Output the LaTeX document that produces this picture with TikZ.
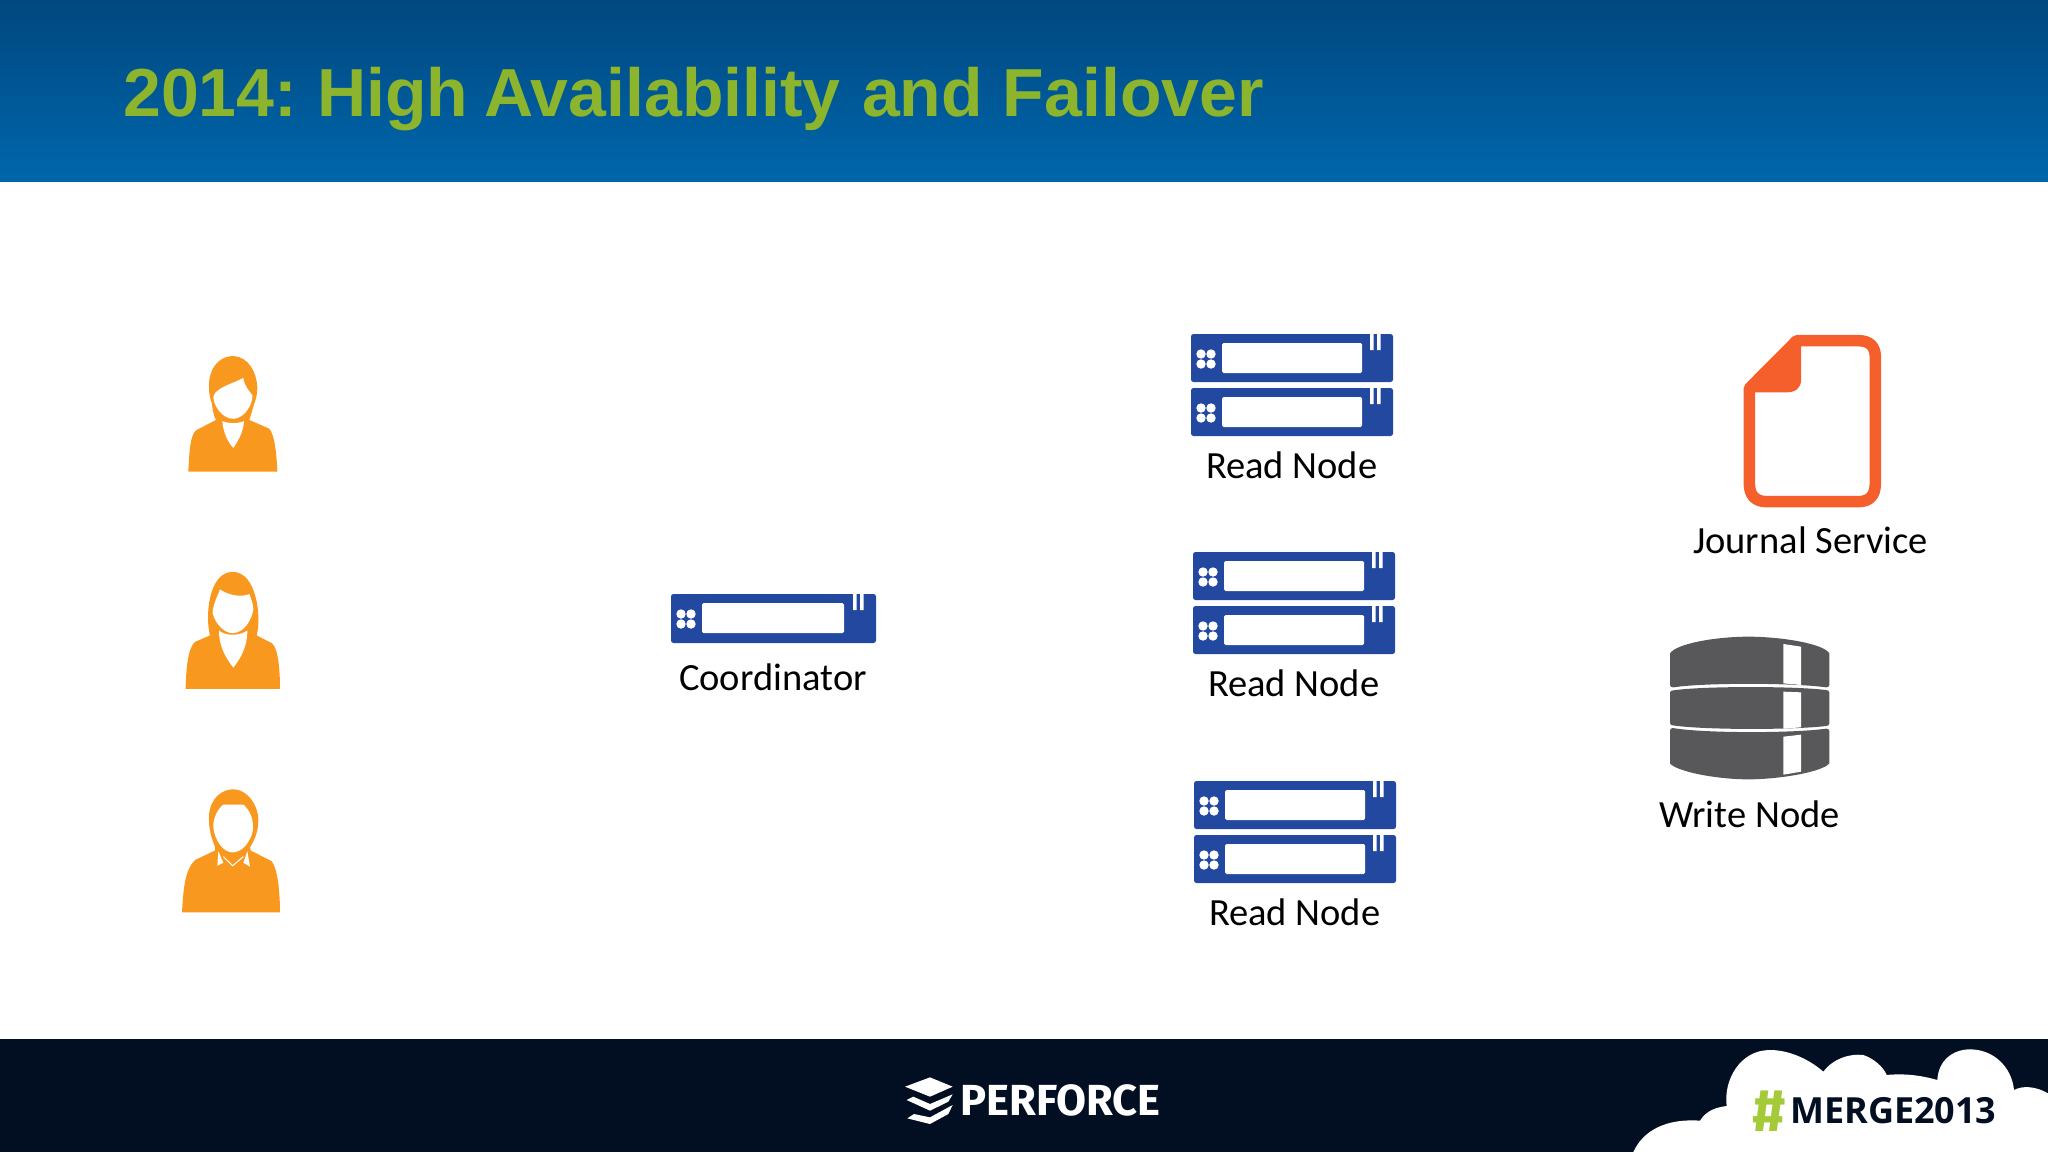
\documentclass[tikz,border=0pt]{standalone}
\usepackage{fontspec}
\setmainfont{Carlito}
\newfontfamily\titlefont{Liberation Sans}
\newfontfamily\logofont{Fira Sans}
\newfontfamily\mergefont{Open Sans}
\definecolor{hdtop}{HTML}{00477F}
\definecolor{hdbot}{HTML}{0067AB}
\definecolor{titlegreen}{HTML}{8CB42C}
\definecolor{footbg}{HTML}{020F23}
\definecolor{srvblue}{HTML}{2248A0}
\definecolor{persorange}{HTML}{F9981F}
\definecolor{docorange}{HTML}{F45F2C}
\definecolor{dbgrey}{HTML}{58585A}
\definecolor{hashgreen}{HTML}{A4CA38}
\tikzset{
  lbl/.style={inner sep=0pt,font=\fontsize{38.5}{42}\selectfont,text=black},
  srvbody/.style={fill=srvblue,rounded corners=2.5pt},
  srvhole/.style={fill=white},
  person/.style={fill=persorange},
  hole/.style={fill=white},
  dbpart/.style={fill=dbgrey},
  pics/server/.style={code={
    \fill[srvbody] (0,0) rectangle (#1,48);
    \fill[srvhole,rounded corners=1.5pt] (31,9) rectangle (171,39);
    \fill[srvhole] (10,20) circle (4.7) (20,20) circle (4.7) (10,30) circle (4.7) (20,30) circle (4.7);
    \fill[srvhole] (179,0) rectangle (182.5,16) (186,0) rectangle (189.5,16);
  }}
}
\begin{document}
\begin{tikzpicture}[x=1pt,y=-1pt]
\useasboundingbox (0,0) rectangle (2048,1152);
\fill[fill=white] (0,0) rectangle (2048,1152);
\shade[top color=hdtop,bottom color=hdbot] (0,0) rectangle (2048,181.5);
\fill[footbg] (0,1039) rectangle (2048,1152);
\node[anchor=base west,inner sep=0pt,text=titlegreen,font=\titlefont\bfseries\fontsize{68}{72}\selectfont] (title) at (123,116) {2014:\hspace{-5pt} High\hspace{-3pt} Availability\hspace{2.5pt} and\hspace{1pt} Failover};

% people
\begin{scope}[shift={(160,330)},xscale=1/3,yscale=0.3827]
\fill[person] (85,370) .. controls (88,310) and (92,275) .. (108,262) -- (168,235) .. controls (160,225) and (158,205) .. (155,190) .. controls (146,170) and (146,150) .. (148,130) .. controls (155,90) and (185,68) .. (220,68) .. controls (265,70) and (290,110) .. (292,150) .. controls (292,180) and (280,195) .. (275,215) -- (268,235) -- (328,258) .. controls (345,275) and (350,330) .. (352,370) -- cycle;
\fill[hole] (165,165) .. controls (185,145) and (225,138) .. (250,125) .. controls (252,145) and (268,160) .. (277,170) .. controls (280,190) and (255,232) .. (220,232) .. controls (185,232) and (160,195) .. (160,175) -- cycle;
\fill[hole] (187,238) .. controls (205,245) and (235,245) .. (252,238) .. controls (250,270) and (230,295) .. (220,308) .. controls (205,295) and (190,270) .. (187,238) -- cycle;
\fill[person] (77,938) .. controls (78,880) and (85,830) .. (105,815) -- (150,798) .. controls (135,750) and (145,632) .. (218,632) .. controls (290,632) and (305,750) .. (290,798) -- (335,818) .. controls (355,830) and (360,890) .. (360,938) -- cycle;
\fill[hole] (180,678) .. controls (210,695) and (245,698) .. (268,690) .. controls (272,700) and (280,715) .. (280,730) .. controls (275,760) and (250,792) .. (218,792) .. controls (190,792) and (165,765) .. (158,740) .. controls (158,720) and (170,700) .. (180,678) -- cycle;
\fill[hole] (177,785) .. controls (195,800) and (240,800) .. (262,785) .. controls (262,830) and (240,860) .. (220,882) .. controls (200,860) and (177,830) .. (177,785) -- cycle;
\fill[person] (66,1522) .. controls (70,1460) and (75,1410) .. (105,1385) -- (165,1360) -- (165,1350) .. controls (155,1330) and (145,1300) .. (147,1270) .. controls (150,1220) and (190,1200) .. (220,1200) .. controls (260,1200) and (295,1240) .. (295,1280) .. controls (295,1310) and (285,1330) .. (270,1352) -- (272,1360) -- (335,1388) .. controls (355,1410) and (360,1480) .. (360,1522) -- cycle;
\fill[hole] (190,1240) -- (250,1240) .. controls (270,1255) and (283,1280) .. (278,1310) .. controls (270,1340) and (245,1365) .. (218,1365) .. controls (190,1365) and (165,1335) .. (160,1300) .. controls (158,1275) and (175,1250) .. (190,1240) -- cycle;
\fill[hole] (175,1362) -- (190,1392) -- (172,1400) -- cycle (262,1362) -- (270,1402) -- (250,1392) -- cycle;
\draw[white,line width=1pt] (190,1376) -- (218,1400) -- (250,1376);
\end{scope}

% servers
\pic at (1191,334) {server=202};
\pic at (1191,388) {server=202};
\pic at (1193,552) {server=202};
\pic at (1193,606) {server=202};
\pic at (1194,781) {server=202};
\pic at (1194,835) {server=202};
\begin{scope}[shift={(671,594)}]
\fill[srvbody] (0,0) rectangle (205,49);
\fill[srvhole,rounded corners=1.5pt] (31,9) rectangle (173,39);
\fill[srvhole] (10,20) circle (4.7) (20,20) circle (4.7) (10,30) circle (4.7) (20,30) circle (4.7);
\fill[srvhole] (182,0) rectangle (185.5,16) (189,0) rectangle (192.5,16);
\end{scope}

% journal document
\begin{scope}[shift={(1640,320)},scale=1/3]
\draw[docorange,line width=11.5pt,line join=round] (328,205) -- (470,62) -- (655,62) .. controls (690,62) and (706,80) .. (706,112) -- (706,490) .. controls (706,525) and (690,545) .. (655,545) -- (380,545) .. controls (345,545) and (328,525) .. (328,490) -- cycle;
\fill[docorange] (328,205) -- (470,62) -- (483,62) -- (483,180) .. controls (483,205) and (465,217) .. (440,217) -- (328,217) -- cycle;
\end{scope}
% database
\begin{scope}[shift={(1660,630)},scale=1/3]
\fill[dbpart] (30,70) .. controls (50,40) and (170,20) .. (265,20) .. controls (360,20) and (490,40) .. (508,70) -- (508,165) .. controls (508,170) and (503,172) .. (498,172) .. controls (400,158) and (130,158) .. (40,172) .. controls (34,172) and (30,170) .. (30,165) -- cycle;
\fill[dbpart] (40,181) .. controls (130,168) and (400,168) .. (498,180) .. controls (504,180) and (508,183) .. (508,188) -- (508,280) .. controls (508,285) and (504,288) .. (498,288) .. controls (400,300) and (130,300) .. (38,286) .. controls (33,286) and (30,283) .. (30,278) -- (30,188) .. controls (30,183) and (34,181) .. (40,181) -- cycle;
\fill[dbpart] (38,294) .. controls (130,310) and (400,310) .. (498,296) .. controls (504,296) and (508,298) .. (508,303) -- (508,400) .. controls (490,425) and (360,448) .. (265,448) .. controls (170,448) and (50,425) .. (30,400) -- (30,302) .. controls (30,297) and (33,294) .. (38,294) -- cycle;
\fill[hole] (370,42) -- (423,50) -- (423,165) -- (370,160) -- cycle;
\fill[hole] (370,185) -- (423,187) -- (423,292) -- (370,296) -- cycle;
\fill[hole] (370,320) -- (423,314) -- (423,425) -- (370,434) -- cycle;
\end{scope}

% labels
\node[lbl] (rn1) at (1291.7,465) {Read Node};
\node[lbl] (rn2) at (1293.7,683) {Read Node};
\node[lbl] (rn3) at (1294.7,912) {Read Node};
\node[lbl] (coord) at (773,677) {Coordinator};
\node[lbl] (journal) at (1810.5,540) {Journal Service};
\node[lbl] (write) at (1749.5,814) {Write Node};

% Perforce logo
\begin{scope}[shift={(880,1040)},scale=1/3]
\fill[white] (75,140) -- (150,112) -- (218,140) -- (150,170) -- cycle;
\fill[white] (80,180) -- (100,170) -- (150,192) -- (218,163) -- (205,185) -- (150,212) -- cycle;
\fill[white] (82,235) -- (102,222) -- (150,232) -- (218,195) -- (205,222) -- (150,252) -- cycle;
\end{scope}
\node[anchor=base west,inner sep=0pt,text=white,font=\logofont\bfseries\fontsize{43.5}{46}\selectfont] (perforce) at (960,1115) {PERFORCE};

% cloud
\begin{scope}[shift={(1600,1030)},scale=1/3]
\fill[white] (100,366) .. controls (130,300) and (200,265) .. (300,272) .. controls (320,240) and (350,232) .. (380,228) .. controls (370,150) and (420,60) .. (510,60) .. controls (570,60) and (630,90) .. (670,125) .. controls (700,85) and (750,70) .. (790,75) .. controls (820,85) and (850,110) .. (860,135) .. controls (910,130) and (960,135) .. (1012,150) .. controls (1015,90) and (1060,58) .. (1110,58) .. controls (1180,58) and (1235,110) .. (1242,180) .. controls (1270,165) and (1310,170) .. (1344,190) -- (1344,366) -- cycle;
\end{scope}
\node[anchor=base west,inner sep=0pt,text=hashgreen,font=\logofont\bfseries\fontsize{60}{62}\selectfont] (hash) at (1752,1131) {\#};
\node[anchor=base west,inner sep=0pt,text=footbg,font=\mergefont\bfseries\fontsize{36}{40}\selectfont] (merge) at (1790,1123) {MERGE2013};
\end{tikzpicture}
\end{document}
